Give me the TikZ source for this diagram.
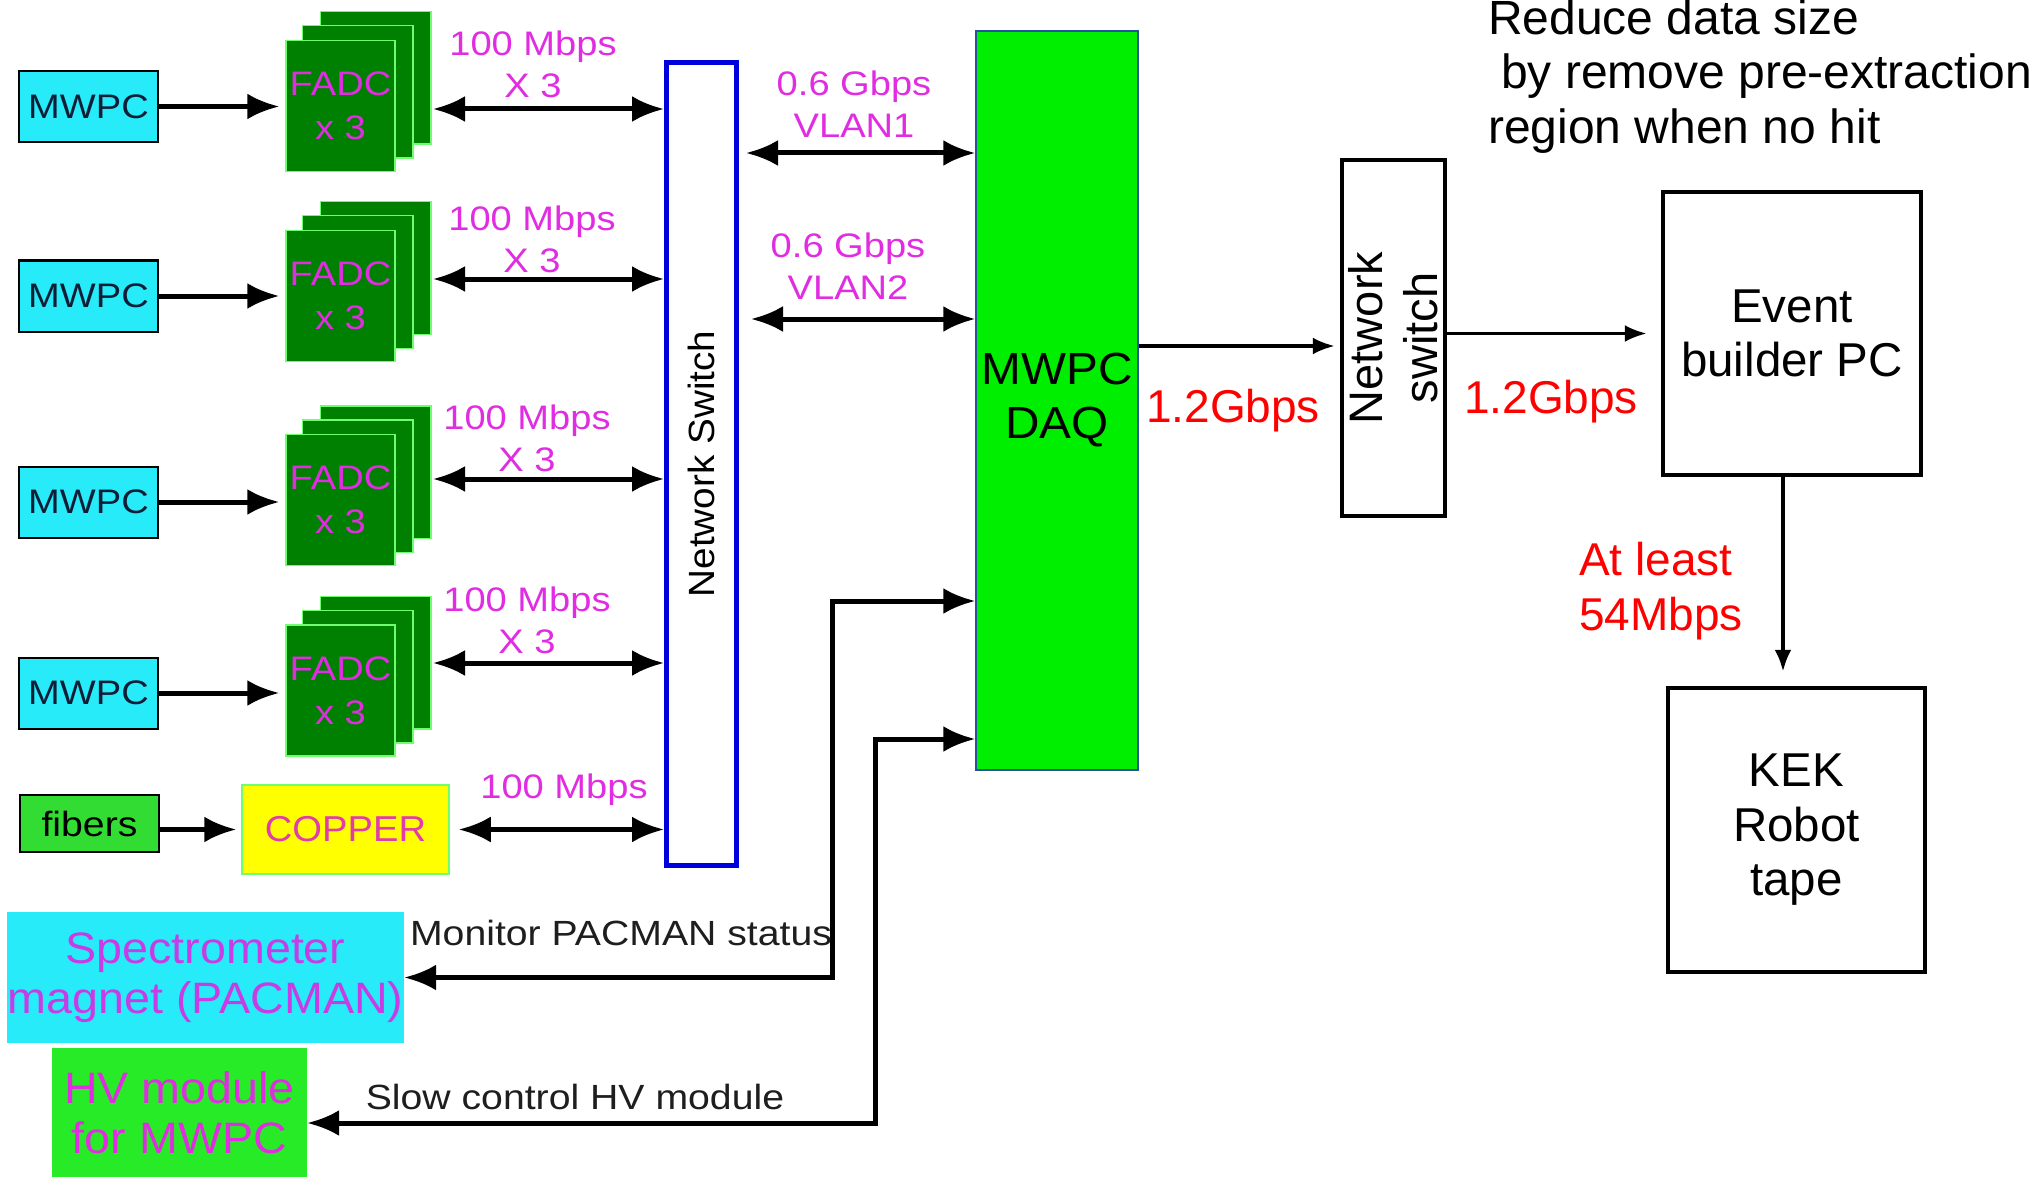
\documentclass[tikz,border=0pt]{standalone}
\usepackage{fontspec}
\setmainfont{Liberation Sans}
\newfontfamily\wideA[FakeStretch=1.12]{Liberation Sans}
\newfontfamily\wideB[FakeStretch=1.06]{Liberation Sans}
\usetikzlibrary{arrows.meta,backgrounds}
\definecolor{cyanbox}{RGB}{40,235,250}
\definecolor{darkgreen}{RGB}{0,128,0}
\definecolor{lightgr}{RGB}{110,255,110}
\definecolor{mag}{RGB}{225,45,225}
\definecolor{specmag}{RGB}{200,60,230}
\definecolor{copmag}{RGB}{225,60,170}
\definecolor{daqgreen}{RGB}{0,238,0}
\definecolor{daqedge}{RGB}{40,80,160}
\definecolor{fibgreen}{RGB}{50,220,50}
\definecolor{hvgreen}{RGB}{40,235,40}
\definecolor{nsblue}{RGB}{0,0,220}
\definecolor{copyel}{RGB}{255,255,0}
\definecolor{txtnavy}{RGB}{15,30,55}
\definecolor{txtgray}{RGB}{30,30,30}
\definecolor{redtxt}{RGB}{255,0,0}
\tikzset{
  mwpcbox/.style={draw=black, line width=2pt, fill=cyanbox, minimum width=139pt, minimum height=71pt, inner sep=0pt, text=txtnavy, font=\wideA\fontsize{34}{40}\selectfont},
  card/.style={draw=lightgr, line width=1.5pt, fill=darkgreen},
  fadc/.style={card, minimum width=109pt, minimum height=131pt, inner sep=0pt, text=mag, align=center, font=\wideA\fontsize{34}{44}\selectfont},
  maglabel/.style={text=mag, align=center, inner sep=0pt, font=\wideA\fontsize{34}{42}\selectfont},
  redlabel/.style={text=redtxt, inner sep=0pt, font=\fontsize{46}{55}\selectfont},
  blacklabel/.style={text=txtgray, inner sep=0pt, font=\wideA\fontsize{35}{42}\selectfont},
  fat/.style={line width=5pt, -{Latex[length=32pt,width=26pt]}},
  bidir/.style={line width=5pt, {Latex[length=32pt,width=26pt]}-{Latex[length=32pt,width=26pt]}},
  slimarrow/.style={line width=3.5pt, -{Latex[length=22pt,width=17pt]}},
  plainbox/.style={draw=black, line width=4.5pt, inner sep=0pt, align=center, font=\fontsize{47.5}{54.5}\selectfont},
}
\begin{document}
\begin{tikzpicture}[x=1pt,y=-1pt]
\useasboundingbox (0,0) rectangle (2035,1177);
\begin{scope}[on background layer]
  \fill[white] (0,0) rectangle (2035,1177);
\end{scope}

% MWPC boxes
\node[mwpcbox] (m1) at (88.5,106.5) {MWPC};
\node[mwpcbox] (m2) at (88.5,296) {MWPC};
\node[mwpcbox] (m3) at (88.5,502) {MWPC};
\node[mwpcbox] (m4) at (88.5,693) {MWPC};

% FADC stacks (front cards as nodes)
\node[fadc] (f1) at (340.5,106) {FADC\\x 3};
\node[fadc] (f2) at (340.5,296) {FADC\\x 3};
\node[fadc] (f3) at (340.5,500) {FADC\\x 3};
\node[fadc] (f4) at (340.5,690.5) {FADC\\x 3};
\begin{scope}[on background layer]
\foreach \f in {f1,f2,f3,f4}{
  \draw[card] ([shift={(35,-28)}]\f.south west) rectangle ([shift={(35,-28)}]\f.north east);
  \draw[card] ([shift={(17,-14)}]\f.south west) rectangle ([shift={(17,-14)}]\f.north east);
}
\end{scope}

% Network switch (blue)
\node[draw=nsblue, line width=5pt, minimum width=70pt, minimum height=803pt, inner sep=0pt] (ns) at (701.5,464) {};
\node[rotate=90, text=black, font=\wideB\fontsize{36.5}{42}\selectfont] (nstxt) at (ns.center) {Network Switch};

% MWPC -> FADC
\foreach \i in {1,2,3,4}{
  \draw[fat, shorten >=6pt] (m\i.east) -- (m\i.east -| f\i.west);
}

% FADC <-> switch
\coordinate (b1) at (433,109);
\coordinate (b2) at (433,279);
\coordinate (b3) at (433,479);
\coordinate (b4) at (433,663);
\foreach \i in {1,2,3,4}{
  \draw[bidir] (b\i) -- (b\i -| ns.west);
}
\node[maglabel] (l1) at (533,64) {100 Mbps\\X 3};
\node[maglabel] (l2) at (532,239) {100 Mbps\\X 3};
\node[maglabel] (l3) at (527,438) {100 Mbps\\X 3};
\node[maglabel] (l4) at (527,620) {100 Mbps\\X 3};

% fibers and COPPER
\node[draw=black, line width=2pt, fill=fibgreen, minimum width=139pt, minimum height=57pt, inner sep=0pt, font=\wideA\fontsize{35}{40}\selectfont] (fib) at (89.5,823.5) {fibers};
\node[draw=lightgr, line width=1.5pt, fill=copyel, minimum width=207pt, minimum height=89pt, inner sep=0pt, text=copmag, font=\wideB\fontsize{36}{42}\selectfont] (cop) at (345.5,829.5) {COPPER};
\draw[fat, shorten >=5pt] (cop -| fib.east) -- (cop.west);
\draw[bidir] ([xshift=9pt]cop.east) -- (cop -| ns.west);
\node[maglabel] (l5) at (564,790) {100 Mbps};

% MWPC DAQ
\node[draw=daqedge, line width=1.5pt, fill=daqgreen, minimum width=162pt, minimum height=739pt, inner sep=0pt, align=center, font=\wideB\fontsize{45}{54}\selectfont] (daq) at (1057,400.5) {MWPC\\DAQ};

% switch <-> DAQ VLANs
\coordinate (v1) at (746,153);
\coordinate (v2) at (751,319);
\draw[bidir] (v1) -- (v1 -| daq.west);
\draw[bidir] (v2) -- (v2 -| daq.west);
\node[maglabel] (vl1) at (854,104.5) {0.6 Gbps\\VLAN1};
\node[maglabel] (vl2) at (848,266) {0.6 Gbps\\VLAN2};

% Network switch 2
\node[plainbox, minimum width=103pt, minimum height=356pt] (ns2) at (1393.5,338) {};
\node[rotate=90, align=center, inner sep=0pt, font=\fontsize{47}{55}\selectfont] (ns2txt) at (ns2.center) {Network\\switch};

% Event builder and KEK
\node[plainbox, minimum width=258pt, minimum height=283pt] (eb) at (1792,333.5) {Event\\builder PC};
\node[plainbox, minimum width=257pt, minimum height=284pt] (kek) at (1796.5,830) {KEK\\Robot\\tape};

% right side arrows
\coordinate (o1) at (1138,346);
\draw[slimarrow, shorten >=5pt] (o1 -| daq.east) -- (o1 -| ns2.west);
\draw[slimarrow, shorten >=14pt] (ns2.east |- eb.west) -- (eb.west);
\draw[slimarrow, line width=4pt, shorten >=14pt] ([xshift=-9pt]eb.south) -- ([xshift=-9pt]eb.south |- kek.north);

\node[redlabel] (r1) at (1233,411) {1.2Gbps};
\node[redlabel] (r2) at (1551,402) {1.2Gbps};
\node[redlabel, anchor=west, align=left] (al) at (1579,591.5) {At least\\54Mbps};
\node[anchor=west, align=left, inner sep=0pt, font=\fontsize{48}{54.5}\selectfont] (red) at (1488,76.5) {Reduce data size\\\hspace*{13pt}by remove pre-extraction\\region when no hit};

% Spectrometer and HV
\node[fill=cyanbox, minimum width=397pt, minimum height=131pt, inner sep=0pt, align=center, text=specmag, font=\wideB\fontsize{44}{50}\selectfont] (spec) at (205.5,977.5) {Spectrometer\\magnet (PACMAN)};
\node[fill=hvgreen, minimum width=255pt, minimum height=129pt, inner sep=0pt, align=center, text=mag, font=\wideB\fontsize{44}{50}\selectfont] (hv) at (179.5,1112.5) {HV module\\for MWPC};

\coordinate (pt) at (832,601);
\coordinate (st) at (875,739);
\draw[bidir] (spec.east) -| (pt) -- (pt -| daq.west);
\draw[bidir] ([yshift=-10.5pt]hv.east) -| (st) -- (st -| daq.west);
\node[blacklabel] (mon) at (621,933) {Monitor PACMAN status};
\node[blacklabel] (slow) at (575,1097) {Slow control HV module};
\end{tikzpicture}
\end{document}
